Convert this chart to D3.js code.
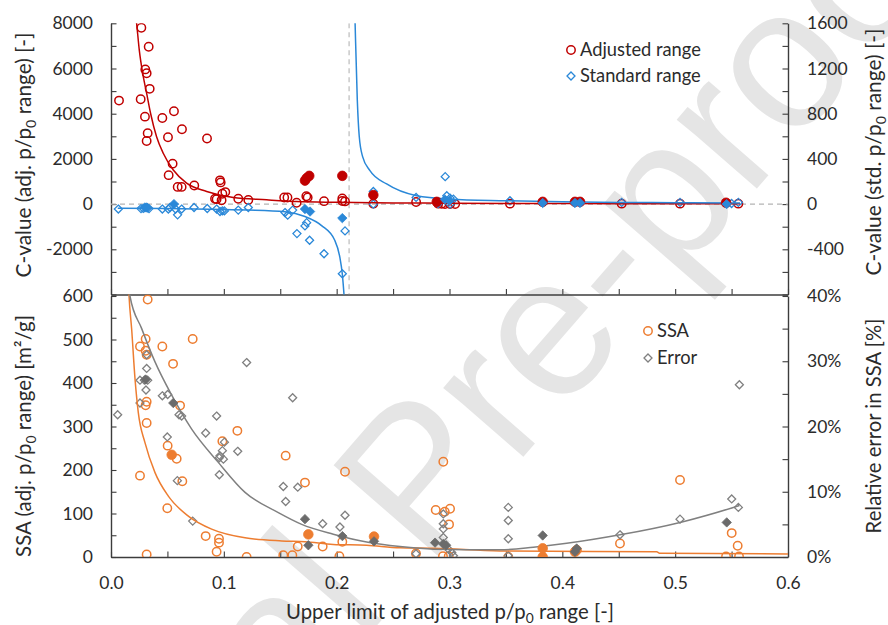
<!DOCTYPE html>
<html>
<head>
<meta charset="utf-8">
<script src="https://cdn.jsdelivr.net/npm/d3@7"></script>
<style>
  body { margin: 0; background: #fff; }
  svg { display: block; }
  text { font-family: Lato, "Noto Sans", sans-serif; fill: #2b2b2b; }
</style>
</head>
<body>
<svg id="chart" width="888" height="625"></svg>
<script>
// ---------- data: C-values (upper panel) ----------
// [upper limit of p/p0 range, C-value]
const adjustedOpen = [
  [0.0071,4580],[0.0263,4640],[0.0269,7800],[0.0304,5960],[0.0316,5790],[0.0334,6960],
  [0.0343,5100],[0.0301,3870],[0.0325,3140],[0.0316,2790],[0.0455,3810],[0.0558,4110],
  [0.0505,2960],[0.0629,3310],[0.0851,2900],[0.0546,1790],[0.0511,1280],[0.0591,760],
  [0.0626,760],[0.0738,820],[0.0966,1050],[0.0972,960],[0.0936,220],[0.0922,240],
  [0.0987,460],[0.1013,530],[0.0980,170],[0.1128,240],[0.1217,180],[0.1535,290],
  [0.1564,290],[0.1645,60],[0.1731,350],[0.1743,290],[0.1888,130],[0.2050,250],
  [0.2050,140],[0.2074,120],[0.2325,20],[0.2704,90],[0.2900,20],[0.2960,0],
  [0.3005,0],[0.3050,0],[0.2930,10],[0.3536,20],[0.4526,20],[0.5043,20],[0.5560,20]
];
const adjustedFilled = [
  [0.1719,1040],[0.1734,1150],[0.1757,1250],[0.2050,1250],[0.2325,400],[0.2887,100],
  [0.3826,100],[0.4112,100],[0.4157,100],[0.5451,60]
];
// standard range, read on the right-hand axis
const standardOpen = [
  [0.0065,-44],[0.0266,-40],[0.0286,-38],[0.0325,-34],[0.0337,-40],[0.0455,-44],
  [0.0508,-44],[0.0523,-30],[0.0572,-44],[0.0590,-95],[0.0626,-44],[0.0736,-30],
  [0.0853,-39],[0.0936,-44],[0.0966,-66],[0.0987,-60],[0.1005,-60],[0.1128,-53],
  [0.1217,-30],[0.1542,-75],[0.1566,-98],[0.1610,-53],[0.1734,-164],[0.1719,-193],
  [0.1648,-261],[0.1760,-320],[0.1888,-439],[0.2074,-237],[0.2050,-617],[0.2325,112],
  [0.2325,0],[0.2704,59],[0.2962,243],[0.2976,74],[0.3005,53],[0.3035,44],[0.2900,5],
  [0.3005,0],[0.3536,30],[0.4526,15],[0.5043,15],[0.5500,5],[0.5560,15]
];
const standardFilled = [
  [0.0300,-30],[0.0316,-30],[0.0558,0],[0.1719,-44],[0.1764,-66],[0.2050,-124],
  [0.2960,40],[0.3000,30],[0.3826,10],[0.4112,10],[0.4157,10],[0.5456,0]
];
// fitted trends
const adjustedFit = [
  [0.0218,8400],[0.0227,8000],[0.0251,6800],[0.0281,5780],[0.0316,4900],[0.0351,4010],
  [0.0404,2980],[0.0463,2250],[0.0552,1510],[0.0670,930],[0.0848,560],[0.1084,290],
  [0.1379,190],[0.1645,115],[0.2000,80],[0.2500,50],[0.3000,40],[0.3650,30],
  [0.4500,20],[0.5575,15]
];
const standardFitLow = [
  [0.0060,-36],[0.0500,-40],[0.1000,-48],[0.1217,-53],[0.1542,-68],[0.1719,-110],
  [0.1866,-190],[0.1983,-320],[0.2028,-470],[0.2050,-620],[0.2065,-800],[0.2072,-900]
];
const standardFitHigh = [
  [0.2158,1800],[0.2163,1614],[0.2183,918],[0.2200,600],[0.2230,420],[0.2295,296],
  [0.2443,178],[0.2708,74],[0.3005,44],[0.3500,30],[0.4000,20],[0.4500,15],
  [0.5000,12],[0.5575,10]
];
const poleX = 0.211;

// ---------- data: SSA and relative error (lower panel) ----------
const ssaOpen = [
  [0.0325,592],[0.0307,501],[0.0257,484],[0.0307,474],[0.0316,465],[0.0455,484],
  [0.0724,501],[0.0550,444],[0.0316,357],[0.0307,349],[0.0612,348],[0.0316,308],
  [0.1120,290],[0.0987,266],[0.0502,256],[0.0582,226],[0.1548,233],[0.0257,187],
  [0.0632,174],[0.0499,112],[0.0839,48],[0.0957,42],[0.0957,33],[0.0936,12],
  [0.0316,6],[0.1202,0],[0.1527,4],[0.1607,4],[0.1655,24],[0.1719,171],[0.2074,196],
  [0.2945,219],[0.2878,108],[0.2958,104],[0.3005,111],[0.2996,75],[0.1876,24],
  [0.2050,35],[0.2024,2],[0.2703,8],[0.2942,2],[0.2993,2],[0.5043,177],[0.4511,31],
  [0.5501,55],[0.5554,26],[0.5451,1],[0.5566,1],[0.3521,0]
];
const ssaFilled = [
  [0.0538,235],[0.1749,52],[0.2331,47],[0.3826,20],[0.3826,0],[0.4112,12],[0.4127,16]
];
// relative error in fractions of 1
const errorOpen = [
  [0.0059,0.218],[0.0257,0.236],[0.0257,0.271],[0.0296,0.271],[0.0325,0.271],
  [0.0316,0.289],[0.0316,0.310],[0.0310,0.256],[0.0455,0.247],[0.0502,0.249],
  [0.0603,0.218],[0.0626,0.216],[0.0499,0.184],[0.0588,0.117],[0.0724,0.055],
  [0.0839,0.190],[0.0936,0.216],[0.0966,0.155],[0.0960,0.152],[0.0987,0.163],
  [0.0996,0.150],[0.1005,0.176],[0.0960,0.126],[0.1123,0.162],[0.1202,0.298],
  [0.1527,0.108],[0.1548,0.085],[0.1655,0.107],[0.1610,0.244],[0.1876,0.051],
  [0.2029,0.046],[0.2074,0.064],[0.2703,0.005],[0.2945,0.066],[0.2945,0.051],
  [0.2945,0.043],[0.2945,0.030],[0.2990,0.012],[0.3020,0.007],[0.3035,0.002],
  [0.3521,0.076],[0.3521,0.056],[0.3521,0.028],[0.3521,0.002],[0.4511,0.034],
  [0.5043,0.058],[0.5501,0.089],[0.5560,0.076],[0.5569,0.264]
];
const errorFilled = [
  [0.0307,0.272],[0.0552,0.236],[0.1719,0.058],[0.1749,0.018],[0.2051,0.032],
  [0.2331,0.024],[0.2872,0.022],[0.2970,0.018],[0.2945,0.020],[0.3826,0.033],
  [0.4127,0.013],[0.4112,0.008],[0.5457,0.053]
];
const ssaFit = [
  [0.0150,660],[0.0160,600],[0.0183,524],[0.0213,409],[0.0242,332],[0.0301,263],
  [0.0390,194],[0.0508,140],[0.0685,94],[0.0892,64],[0.1188,44],[0.1513,37],
  [0.1720,35],[0.1970,29],[0.2266,27],[0.2561,21],[0.2856,20],[0.3448,14],
  [0.4836,12],[0.4866,8.5],[0.6000,7]
];
const errorFit = [
  [0.0160,0.41],[0.0168,0.400],[0.0272,0.350],[0.0390,0.299],[0.0538,0.248],
  [0.0715,0.196],[0.0951,0.145],[0.1188,0.099],[0.1483,0.068],[0.1690,0.050],
  [0.1970,0.035],[0.2266,0.023],[0.2561,0.016],[0.2856,0.012],[0.3448,0.011],
  [0.3743,0.015],[0.4039,0.021],[0.4511,0.034],[0.5043,0.053],[0.5515,0.076],
  [0.5570,0.079]
];

// ---------- tick values ----------
const xTickLabels = [0, 0.1, 0.2, 0.3, 0.4, 0.5, 0.6];
const cLeftLabels = [-2000, 0, 2000, 4000, 6000, 8000];
const cRightLabels = [-400, 0, 400, 800, 1200, 1600];
const ssaLabels = [0, 100, 200, 300, 400, 500, 600];
const errLabels = [0, 0.1, 0.2, 0.3, 0.4];

// ---------- layout ----------
const L = 111, R = 788, T = 23.3, MID = 294.5, B = 557;
const RED = "#c00000", BLUE = "#2a88d8", ORANGE = "#ed7d31", GREY = "#808080", GREY_D = "#6b6b6b";
const AXIS = "#3c3c3c";

const svg = d3.select("#chart");

const x = d3.scaleLinear().domain([0, 0.6]).range([L, R]);
const yC = d3.scaleLinear().domain([-4000, 8000]).range([MID, T]);
const yCs = d3.scaleLinear().domain([-800, 1600]).range([MID, T]);
const yS = d3.scaleLinear().domain([0, 600]).range([B, MID + 1.5]);
const yE = d3.scaleLinear().domain([0, 0.4]).range([B, MID + 1.5]);

// watermark behind the plot
svg.append("text")
  .attr("transform", "translate(-40,1105) rotate(-49)")
  .style("font-family", "'Liberation Sans', Arial, sans-serif")
  .style("font-size", "200px")
  .style("fill", "#e5e5e5")
  .text("Journal Pre-proof");

const defs = svg.append("defs");
defs.append("clipPath").attr("id", "clipTop").append("rect")
  .attr("x", L).attr("y", T).attr("width", R - L).attr("height", MID - T);
defs.append("clipPath").attr("id", "clipBot").append("rect")
  .attr("x", L).attr("y", MID).attr("width", R - L).attr("height", B - MID);

// ---------- axes ----------
function styleAxis(g) {
  g.selectAll("path.domain").attr("stroke", AXIS).attr("stroke-width", 1.4);
  g.selectAll(".tick line").attr("stroke", AXIS).attr("stroke-width", 1.1);
  g.selectAll(".tick text").style("font-family", "Lato, 'Noto Sans', sans-serif")
    .style("font-size", "17.5px").attr("fill", "#2b2b2b");
}
const fmtSet = (vals, f) => d => vals.some(v => Math.abs(v - d) < 1e-9) ? f(d) : "";

svg.append("g").attr("transform", `translate(${L},0)`)
  .call(d3.axisLeft(yC).tickValues(d3.range(-4000, 8001, 1000))
    .tickFormat(fmtSet(cLeftLabels, d => d)).tickSizeInner(-5.5).tickSizeOuter(0).tickPadding(18))
  .call(styleAxis);
svg.append("g").attr("transform", `translate(${R},0)`)
  .call(d3.axisRight(yCs).tickValues(d3.range(-800, 1601, 200))
    .tickFormat(fmtSet(cRightLabels, d => d)).tickSizeInner(-5.5).tickSizeOuter(0).tickPadding(19))
  .call(styleAxis);
svg.append("g").attr("transform", `translate(${L},0)`)
  .call(d3.axisLeft(yS).tickValues(d3.range(0, 601, 50))
    .tickFormat(fmtSet(ssaLabels, d => d)).tickSizeInner(-5.5).tickSizeOuter(0).tickPadding(18))
  .call(styleAxis);
svg.append("g").attr("transform", `translate(${R},0)`)
  .call(d3.axisRight(yE).tickValues(d3.range(0, 0.4001, 0.05))
    .tickFormat(fmtSet(errLabels, d3.format(".0%"))).tickSizeInner(-5.5).tickSizeOuter(0).tickPadding(19))
  .call(styleAxis);
svg.append("g").attr("transform", `translate(0,${MID})`)
  .call(d3.axisBottom(x).tickValues(d3.range(0, 0.6001, 0.05)).tickFormat("")
    .tickSizeInner(-5.5).tickSizeOuter(0))
  .call(styleAxis);
svg.append("g").attr("transform", `translate(0,${B})`)
  .call(d3.axisBottom(x).tickValues(d3.range(0, 0.6001, 0.05))
    .tickFormat(fmtSet(xTickLabels, d3.format(".1f"))).tickSizeInner(-5.5).tickSizeOuter(0).tickPadding(20))
  .call(styleAxis);

// ---------- titles with subscripts, sized to a given run length ----------
function buildRich(g, parts, size) {
  const t = g.append("text").attr("text-anchor", "middle").style("font-size", size + "px");
  let shift = 0;
  const dsub = size * 0.22;
  parts.forEach(p => {
    const [str, kind] = typeof p === "string" ? [p, ""] : p;
    const s = t.append("tspan").text(str);
    if (kind === "sub") {
      s.style("font-size", (size * 0.68) + "px").attr("dy", dsub - shift); shift = dsub;
    } else if (shift) {
      s.attr("dy", -shift); shift = 0;
    }
  });
  return t;
}
function richText(g, parts, size, runLength) {
  let t = buildRich(g, parts, size);
  const len = t.node().getComputedTextLength();
  if (runLength && len > 0) {
    t.remove();
    t = buildRich(g, parts, size * runLength / len);
  }
  return t;
}
const titleSize = 18.5;
richText(svg.append("g").attr("transform", "translate(31,155) rotate(-90)"),
  ["C-value (adj. p/p", ["0", "sub"], " range) [-]"], titleSize, 245);
richText(svg.append("g").attr("transform", "translate(881,152) rotate(-90)"),
  ["C-value (std. p/p", ["0", "sub"], " range) [-]"], titleSize, 247);
richText(svg.append("g").attr("transform", "translate(31,436) rotate(-90)"),
  ["SSA (adj. p/p", ["0", "sub"], " range) [m²/g]"], titleSize, 242);
richText(svg.append("g").attr("transform", "translate(881,426) rotate(-90)"),
  ["Relative error in SSA [%]"], titleSize, 215);
richText(svg.append("g").attr("transform", "translate(450,619)"),
  ["Upper limit of adjusted p/p", ["0", "sub"], " range [-]"], titleSize, 328);

// ---------- upper panel ----------
const gTop = svg.append("g").attr("clip-path", "url(#clipTop)");
gTop.append("line").attr("x1", L).attr("x2", R).attr("y1", yC(0)).attr("y2", yC(0))
  .attr("stroke", "#b4b4b4").attr("stroke-width", 1.1).attr("stroke-dasharray", "5,4");
gTop.append("line").attr("x1", x(poleX)).attr("x2", x(poleX)).attr("y1", T).attr("y2", MID)
  .attr("stroke", "#b4b4b4").attr("stroke-width", 1.1).attr("stroke-dasharray", "5,4");

const diamond = r => `M0,${-r}L${r},0L0,${r}L${-r},0Z`;

function circles(g, data, ys, color, filled) {
  g.selectAll(null).data(data).join("circle")
    .attr("cx", d => x(d[0])).attr("cy", d => ys(d[1])).attr("r", filled ? 4.8 : 4.2)
    .attr("fill", filled ? color : "none").attr("stroke", color).attr("stroke-width", filled ? 0.8 : 1.5);
}
function diamonds(g, data, ys, color, filled) {
  g.selectAll(null).data(data).join("path")
    .attr("transform", d => `translate(${x(d[0])},${ys(d[1])})`)
    .attr("d", diamond(filled ? 4.7 : 4.0))
    .attr("fill", filled ? color : "none").attr("stroke", color).attr("stroke-width", filled ? 0.8 : 1.3);
}
function fitLine(g, data, ys, color) {
  g.append("path").datum(data)
    .attr("d", d3.line().x(d => x(d[0])).y(d => ys(d[1])).curve(d3.curveMonotoneX))
    .attr("fill", "none").attr("stroke", color).attr("stroke-width", 1.5);
}

circles(gTop, adjustedOpen, yC, RED, false);
diamonds(gTop, standardOpen, yCs, BLUE, false);
fitLine(gTop, adjustedFit, yC, RED);
fitLine(gTop, standardFitLow, yCs, BLUE);
fitLine(gTop, standardFitHigh, yCs, BLUE);
circles(gTop, adjustedFilled, yC, RED, true);
diamonds(gTop, standardFilled, yCs, BLUE, true);

// ---------- lower panel ----------
const gBot = svg.append("g").attr("clip-path", "url(#clipBot)");
circles(gBot, ssaOpen, yS, ORANGE, false);
diamonds(gBot, errorOpen, yE, GREY, false);
fitLine(gBot, ssaFit, yS, ORANGE);
fitLine(gBot, errorFit, yE, GREY);
circles(gBot, ssaFilled, yS, ORANGE, true);
diamonds(gBot, errorFilled, yE, GREY_D, true);

// ---------- legends ----------
function legend(items) {
  items.forEach(it => {
    const g = svg.append("g").attr("transform", `translate(${it.x},${it.y})`);
    if (it.shape === "circle") {
      g.append("circle").attr("r", 4.2).attr("fill", "none").attr("stroke", it.color).attr("stroke-width", 1.5);
    } else {
      g.append("path").attr("d", diamond(4.0)).attr("fill", "none").attr("stroke", it.color).attr("stroke-width", 1.3);
    }
    g.append("text").attr("x", 9).attr("dy", "0.35em").style("font-size", "18.3px").text(it.label);
  });
}
legend([
  { x: 571, y: 50, shape: "circle", color: RED, label: "Adjusted range" },
  { x: 571, y: 76, shape: "diamond", color: BLUE, label: "Standard range" },
  { x: 648, y: 331, shape: "circle", color: ORANGE, label: "SSA" },
  { x: 648, y: 358, shape: "diamond", color: GREY, label: "Error" }
]);
</script>
</body>
</html>
